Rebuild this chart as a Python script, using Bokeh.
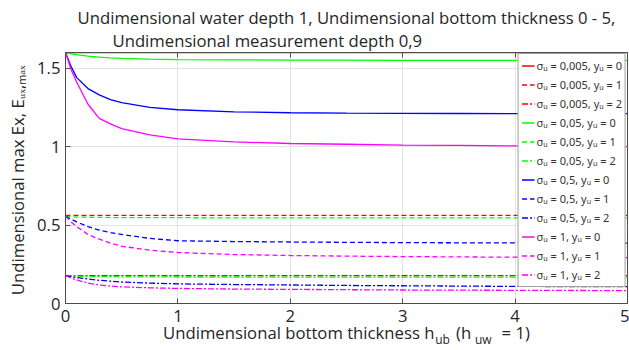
from bokeh.plotting import figure
from bokeh.models import (Range1d, FixedTicker, LinearAxis, Legend, LegendItem, Title)
from bokeh.embed import file_html
from bokeh.resources import INLINE

# ---------------- data ----------------
x_hub = [0, 0.05, 0.1, 0.2, 0.3, 0.4, 0.5, 0.75, 1, 1.5, 2, 2.5, 3, 3.5, 4, 4.5, 5]

e_s0005_y0 = [1.6, 1.6, 1.6, 1.6, 1.6, 1.6, 1.6, 1.6, 1.6, 1.6, 1.6, 1.6, 1.6, 1.6, 1.6, 1.6, 1.6]
e_s0005_y1 = [0.562, 0.562, 0.562, 0.562, 0.562, 0.562, 0.562, 0.562, 0.562, 0.562, 0.562, 0.562, 0.562, 0.562, 0.562, 0.562, 0.562]
e_s0005_y2 = [0.178, 0.178, 0.178, 0.178, 0.178, 0.178, 0.178, 0.178, 0.178, 0.178, 0.178, 0.178, 0.178, 0.178, 0.178, 0.178, 0.178]

e_s005_y0 = [1.6, 1.592, 1.586, 1.577, 1.57, 1.566, 1.563, 1.558, 1.555, 1.553, 1.552, 1.551, 1.55, 1.55, 1.55, 1.55, 1.55]
e_s005_y1 = [0.556, 0.553, 0.551, 0.55, 0.549, 0.548, 0.548, 0.547, 0.547, 0.546, 0.546, 0.546, 0.546, 0.546, 0.546, 0.546, 0.546]
e_s005_y2 = [0.178, 0.176, 0.174, 0.172, 0.171, 0.171, 0.17, 0.17, 0.169, 0.169, 0.168, 0.168, 0.168, 0.168, 0.168, 0.168, 0.168]

e_s05_y0 = [1.6, 1.51, 1.44, 1.37, 1.33, 1.30, 1.28, 1.25, 1.235, 1.222, 1.216, 1.213, 1.212, 1.211, 1.21, 1.21, 1.21]
e_s05_y1 = [0.556, 0.537, 0.52, 0.49, 0.468, 0.452, 0.44, 0.415, 0.40, 0.395, 0.392, 0.39, 0.388, 0.387, 0.386, 0.385, 0.385]
e_s05_y2 = [0.178, 0.171, 0.165, 0.156, 0.148, 0.142, 0.137, 0.13, 0.125, 0.121, 0.118, 0.115, 0.113, 0.111, 0.109, 0.108, 0.107]

e_s1_y0 = [1.6, 1.49, 1.41, 1.27, 1.18, 1.145, 1.115, 1.075, 1.05, 1.03, 1.02, 1.015, 1.01, 1.008, 1.005, 1.003, 1.0]
e_s1_y1 = [0.556, 0.52, 0.49, 0.44, 0.41, 0.385, 0.365, 0.34, 0.325, 0.312, 0.306, 0.302, 0.299, 0.297, 0.295, 0.294, 0.293]
e_s1_y2 = [0.178, 0.162, 0.15, 0.13, 0.118, 0.111, 0.106, 0.1, 0.096, 0.092, 0.09, 0.088, 0.086, 0.085, 0.084, 0.083, 0.082]

sigma_labels = ["0,005", "0,05", "0,5", "1"]
yu_labels = ["0", "1", "2"]
series = [
    [e_s0005_y0, e_s0005_y1, e_s0005_y2],
    [e_s005_y0, e_s005_y1, e_s005_y2],
    [e_s05_y0, e_s05_y1, e_s05_y2],
    [e_s1_y0, e_s1_y1, e_s1_y2],
]
x_ticks = [0, 1, 2, 3, 4, 5]
y_ticks = [0, 0.5, 1, 1.5]
y_tick_labels = ["0", "0.5", "1", "1.5"]

title_line1 = "Undimensional water depth 1, Undimensional bottom thickness 0 - 5,"
title_line2 = "Undimensional measurement depth 0,9"
NB = "\u00a0"
x_label_main = "Undimensional bottom thickness h" + NB * 5 + "(h" + NB * 7 + "= 1)"
x_label_subs = NB * 75 + "ub" + NB * 8 + "uw"
y_label = "Undimensional max Ex,  E\u1d64\u2093,\u2098\u2090\u2093"

# ---------------- styling ----------------
colors = ["#FF0000", "#00FF00", "#0000FF", "#FF00FF"]
dashes = ["solid", "5 3", "6 2 2 2"]
FONT = "Open Sans"
TXT = "#262626"
AX = "#4d4d4d"
FS = "16.7px"

W, H = 629, 350
ML, MR, MT, MB = 65, 2, 52, 47
XMIN, XMAX, YMIN, YMAX = 0, 5, 0, 1.6

p = figure(width=W, height=H, output_backend="svg", toolbar_location=None,
           x_range=Range1d(XMIN, XMAX), y_range=Range1d(YMIN, YMAX),
           min_border_left=ML, min_border_right=MR, min_border_top=MT, min_border_bottom=MB)
p.background_fill_color = "white"
p.border_fill_color = "white"
p.outline_line_color = AX
p.outline_line_width = 1

xt = FixedTicker(ticks=x_ticks)
yt = FixedTicker(ticks=y_ticks)
for ax in (p.xaxis[0], p.yaxis[0]):
    ax.axis_line_color = AX
    ax.major_tick_line_color = AX
    ax.major_tick_in = 5
    ax.major_tick_out = 0
    ax.minor_tick_in = 0
    ax.minor_tick_out = 0
    ax.major_label_text_font = FONT
    ax.major_label_text_font_size = FS
    ax.major_label_text_color = TXT
    ax.axis_label_text_font = FONT
    ax.axis_label_text_font_size = FS
    ax.axis_label_text_color = TXT
    ax.axis_label_text_font_style = "normal"
p.xaxis[0].ticker = xt
p.yaxis[0].ticker = yt
p.yaxis[0].major_label_overrides = {t: s for t, s in zip(y_ticks, y_tick_labels)}
p.xaxis[0].major_label_standoff = 6
p.yaxis[0].major_label_standoff = 5
p.xaxis[0].axis_label = x_label_main
p.xaxis[0].axis_label_standoff = -4
p.yaxis[0].axis_label = y_label
p.yaxis[0].axis_label_standoff = 5

# second, invisible axis under the first: carries the subscripts of the x label
xsub = LinearAxis(ticker=FixedTicker(ticks=[]), axis_line_color=None, major_tick_line_color=None,
                  minor_tick_line_color=None, major_tick_in=0, major_tick_out=0,
                  minor_tick_in=0, minor_tick_out=0, major_label_standoff=0,
                  axis_label=x_label_subs, axis_label_standoff=-16,
                  axis_label_text_font=FONT, axis_label_text_font_size="12px",
                  axis_label_text_color=TXT, axis_label_text_font_style="normal")
p.add_layout(xsub, "below")

top = LinearAxis(ticker=xt, major_tick_in=5, major_tick_out=0, minor_tick_in=0, minor_tick_out=0,
                 major_label_overrides={t: "" for t in x_ticks},
                 major_label_text_font_size="0px", major_label_standoff=0,
                 axis_line_color=AX, major_tick_line_color=AX)
p.add_layout(top, "above")

p.title.text = ""
p.add_layout(Title(text=title_line2, align="left", offset=47, standoff=1,
                   text_font=FONT, text_font_size=FS, text_font_style="normal", text_color=TXT), "above")
p.add_layout(Title(text=title_line1, align="center", standoff=-5,
                   text_font=FONT, text_font_size=FS, text_font_style="normal", text_color=TXT), "above")

p.xgrid.ticker = xt
p.ygrid.ticker = yt
p.xgrid.grid_line_color = "#e3e3e3"
p.ygrid.grid_line_color = "#e3e3e3"

items = []
for si, sig in enumerate(sigma_labels):
    for yi, yu in enumerate(yu_labels):
        r = p.line(x_hub, series[si][yi], line_color=colors[si], line_width=1.3,
                   line_dash=dashes[yi])
        items.append(LegendItem(label=f"σᵤ = {sig}, yᵤ = {yu}", renderers=[r]))

legend = Legend(items=items, location="top_right", margin=1, padding=3, spacing=2,
                glyph_width=13, glyph_height=17, label_height=17, label_standoff=2,
                label_text_font="Noto Sans", label_text_font_size="11px", label_text_color="#333333",
                border_line_color="#404040", border_line_width=1,
                background_fill_color="white", background_fill_alpha=1.0)
p.add_layout(legend)

open("out.html", "w").write(file_html(p, INLINE))
